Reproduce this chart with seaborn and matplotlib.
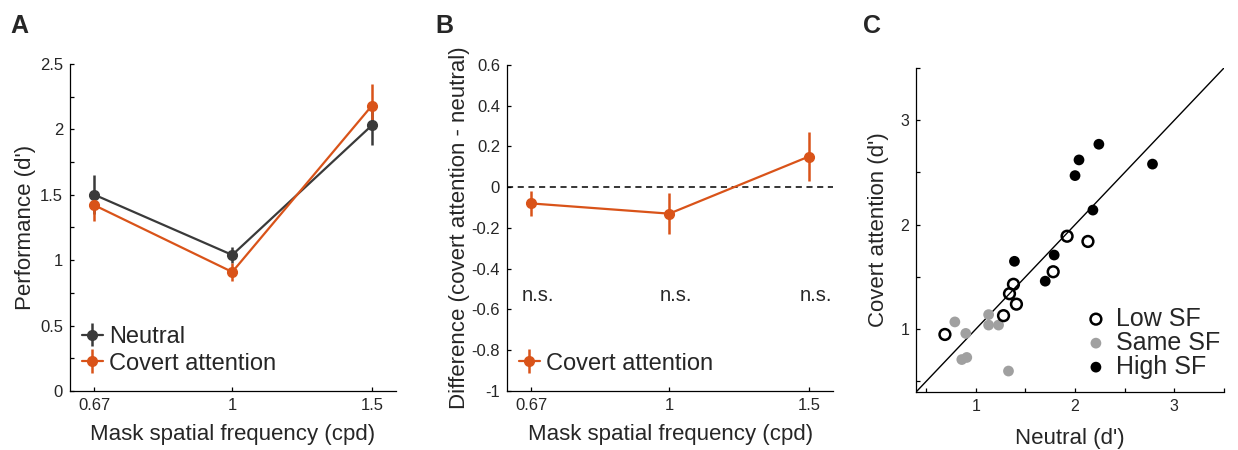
import numpy as np
import pandas as pd
import matplotlib
matplotlib.use("Agg")
import matplotlib.pyplot as plt
from matplotlib.ticker import NullLocator, FixedLocator
import seaborn as sns

sns.set_theme(style="ticks")
plt.rcParams['font.family'] = ['Liberation Sans', 'DejaVu Sans']

# ---- data ----
mask_sf = [0.67, 1, 1.5]
sf_labels = ["0.67", "1", "1.5"]

neutral_mean = [1.50, 1.04, 2.03]
neutral_lo = [1.35, 0.98, 1.88]
neutral_hi = [1.65, 1.10, 2.18]

covert_mean = [1.42, 0.91, 2.18]
covert_lo = [1.30, 0.84, 2.00]
covert_hi = [1.53, 0.98, 2.35]

diff_mean = [-0.08, -0.13, 0.15]
diff_lo = [-0.14, -0.23, 0.03]
diff_hi = [-0.02, -0.03, 0.27]
sig_labels = ["n.s.", "n.s.", "n.s."]

low_neutral = [0.69, 1.34, 1.38, 1.41, 1.28, 1.78, 1.92, 2.13]
low_covert = [0.95, 1.34, 1.43, 1.24, 1.13, 1.55, 1.89, 1.84]
same_neutral = [0.79, 0.90, 0.86, 0.91, 1.13, 1.13, 1.23, 1.33]
same_covert = [1.07, 0.96, 0.71, 0.73, 1.14, 1.04, 1.04, 0.60]
high_neutral = [1.39, 1.70, 1.79, 2.00, 2.04, 2.18, 2.24, 2.78]
high_covert = [1.65, 1.46, 1.71, 2.47, 2.62, 2.14, 2.77, 2.58]

NEUTRAL_C = "#3a3a3a"
COVERT_C = "#D95319"
LABEL_FS = 16
TICK_FS = 12


def style_axes(ax, fs=TICK_FS):
    sns.despine(ax=ax)
    for s in ["left", "bottom"]:
        ax.spines[s].set_linewidth(0.9)
        ax.spines[s].set_color("black")
    ax.tick_params(which="both", direction="in", length=3, width=0.9,
                   colors="black", labelsize=fs, pad=5)
    for t in ax.get_xticklabels() + ax.get_yticklabels():
        t.set_color("#262626")


def yerr(mean, lo, hi):
    return [np.subtract(mean, lo), np.subtract(hi, mean)]


fig = plt.figure(figsize=(12.38, 4.5), dpi=100)

# ---- panel A ----
axA = fig.add_axes([0.0565, 0.131, 0.2635, 0.727])
axA.errorbar(mask_sf, neutral_mean, yerr=yerr(neutral_mean, neutral_lo, neutral_hi),
             fmt="-o", color=NEUTRAL_C, lw=1.6, elinewidth=1.8, ms=7, capsize=0,
             label="Neutral")
axA.errorbar(mask_sf, covert_mean, yerr=yerr(covert_mean, covert_lo, covert_hi),
             fmt="-o", color=COVERT_C, lw=1.6, elinewidth=1.8, ms=7, capsize=0,
             label="Covert attention")
axA.set_xscale("log")
axA.set_xlim(0.624, 1.61)
axA.set_xticks(mask_sf)
axA.set_xticklabels(sf_labels)
axA.xaxis.set_minor_locator(NullLocator())
axA.set_ylim(0, 2.5)
axA.set_yticks([0, 0.5, 1, 1.5, 2, 2.5])
axA.set_yticklabels(["0", "0.5", "1", "1.5", "2", "2.5"])
axA.yaxis.set_minor_locator(FixedLocator([0.25, 0.75, 1.25, 1.75, 2.25]))
style_axes(axA)
axA.set_xlabel("Mask spatial frequency (cpd)", fontsize=LABEL_FS, labelpad=8)
axA.set_ylabel("Performance (d')", fontsize=LABEL_FS, labelpad=3)
axA.legend(loc="lower left", frameon=False, fontsize=17, handlelength=0.9,
           handletextpad=0.25, labelspacing=0.2, borderaxespad=0.3,
           bbox_to_anchor=(-0.015, 0.0))

# ---- panel B ----
axB = fig.add_axes([0.4095, 0.131, 0.2635, 0.725])
axB.axhline(0, color="black", lw=1.1, ls=(0, (4, 3)))
axB.errorbar(mask_sf, diff_mean, yerr=yerr(diff_mean, diff_lo, diff_hi),
             fmt="-o", color=COVERT_C, lw=1.6, elinewidth=1.8, ms=7, capsize=0,
             label="Covert attention")
for xv, lab in zip(mask_sf, sig_labels):
    axB.text(xv * 1.02, -0.53, lab, ha="center", va="center", fontsize=14.5)
axB.set_xscale("log")
axB.set_xlim(0.624, 1.61)
axB.set_xticks(mask_sf)
axB.set_xticklabels(sf_labels)
axB.xaxis.set_minor_locator(NullLocator())
axB.set_ylim(-1, 0.6)
bt = [-1, -0.8, -0.6, -0.4, -0.2, 0, 0.2, 0.4, 0.6]
axB.set_yticks(bt)
axB.set_yticklabels(["-1", "-0.8", "-0.6", "-0.4", "-0.2", "0", "0.2", "0.4", "0.6"])
style_axes(axB)
axB.set_xlabel("Mask spatial frequency (cpd)", fontsize=LABEL_FS, labelpad=8)
axB.set_ylabel("Difference (covert attention - neutral)", fontsize=LABEL_FS, labelpad=1)
axB.legend(loc="lower left", frameon=False, fontsize=17, handlelength=0.9,
           handletextpad=0.25, borderaxespad=0.3, bbox_to_anchor=(-0.015, 0.0))

# ---- panel C ----
axC = fig.add_axes([0.740, 0.129, 0.2487, 0.72])
axC.plot([0.4, 3.5], [0.4, 3.5], color="black", lw=1.0, zorder=1)
sns.scatterplot(x=low_neutral, y=low_covert, ax=axC, s=60, facecolor="none",
                edgecolor="black", linewidth=1.8, label="Low SF", zorder=3)
sns.scatterplot(x=same_neutral, y=same_covert, ax=axC, s=60, color="#a0a0a0",
                edgecolor="none", linewidth=0, label="Same SF", zorder=2)
sns.scatterplot(x=high_neutral, y=high_covert, ax=axC, s=60, color="black",
                edgecolor="none", linewidth=0, label="High SF", zorder=3)
axC.set_xlim(0.4, 3.5)
axC.set_ylim(0.4, 3.5)
axC.set_xticks([1, 2, 3])
axC.set_yticks([1, 2, 3])
axC.set_xticklabels(["1", "2", "3"])
axC.set_yticklabels(["1", "2", "3"])
axC.xaxis.set_minor_locator(FixedLocator([0.5, 1.5, 2.5, 3.5]))
axC.yaxis.set_minor_locator(FixedLocator([0.5, 1.5, 2.5, 3.5]))
style_axes(axC, fs=11.5)
axC.set_xlabel("Neutral (d')", fontsize=LABEL_FS, labelpad=10)
axC.set_ylabel("Covert attention (d')", fontsize=LABEL_FS, labelpad=8)
axC.legend(loc="lower right", frameon=False, fontsize=18, handlelength=0.8,
           handletextpad=0.4, labelspacing=0.0, borderaxespad=0.0,
           bbox_to_anchor=(1.02, 0.01))

# ---- panel letters ----
for xl, lab in [(0.008, "A"), (0.352, "B"), (0.697, "C")]:
    fig.text(xl, 0.968, lab, fontsize=18, fontweight="bold", va="top")

fig.savefig("out.png", dpi=100)
